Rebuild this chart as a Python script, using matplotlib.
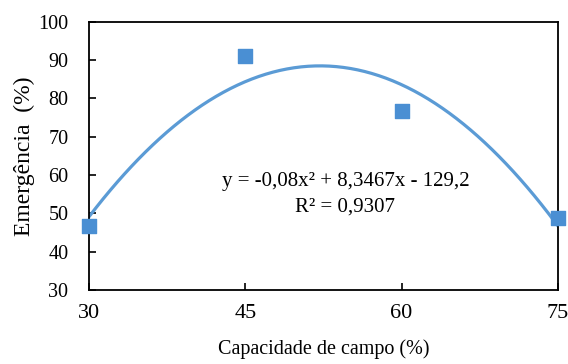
import numpy as np
import matplotlib
matplotlib.use("Agg")
import matplotlib.pyplot as plt

# === 資料 ===
capacidade = [30, 45, 60, 75]
emergencia = [46.7, 91.2, 76.8, 48.8]
coef = [-0.08, 8.3467, -129.2]  # tendência polinomial (ordem 2)
eq_text = "y = -0,08x² + 8,3467x - 129,2"
r2_text = "R² = 0,9307"
x_ticks = [30, 45, 60, 75]
y_ticks = [30, 40, 50, 60, 70, 80, 90, 100]

plt.rcParams['font.family'] = ['Liberation Serif', 'DejaVu Serif']

fig = plt.figure(figsize=(5.68, 3.64), dpi=100)
ax = fig.add_axes([0.157, 0.203, 0.825, 0.737])

# 曲線
xs = np.linspace(capacidade[0], capacidade[-1], 200)
ax.plot(xs, np.polyval(coef, xs), color="#5B9BD5", linewidth=2.3, zorder=2)
# 點
ax.scatter(capacidade, emergencia, marker="s", s=95, color="#4A8FD3", zorder=3, clip_on=False)

ax.text(54.6, 58.3, eq_text, ha="center", va="center", fontsize=15)
ax.text(54.6, 51.8, r2_text, ha="center", va="center", fontsize=15)

ax.set_xlim(30, 75)
ax.set_ylim(30, 100)
ax.set_xticks(x_ticks)
ax.set_yticks(y_ticks)
ax.tick_params(direction="in", length=5, width=1.2, colors="black")
ax.tick_params(axis="x", labelsize=16, pad=10)
ax.tick_params(axis="y", labelsize=14.5, pad=15)
for s in ax.spines.values():
    s.set_linewidth(1.3)

ax.set_xlabel("Capacidade de campo (%)", fontsize=14.5, labelpad=12)
ax.set_ylabel("Emergência  (%)", fontsize=17, labelpad=2)

plt.savefig("out.png", dpi=100)
